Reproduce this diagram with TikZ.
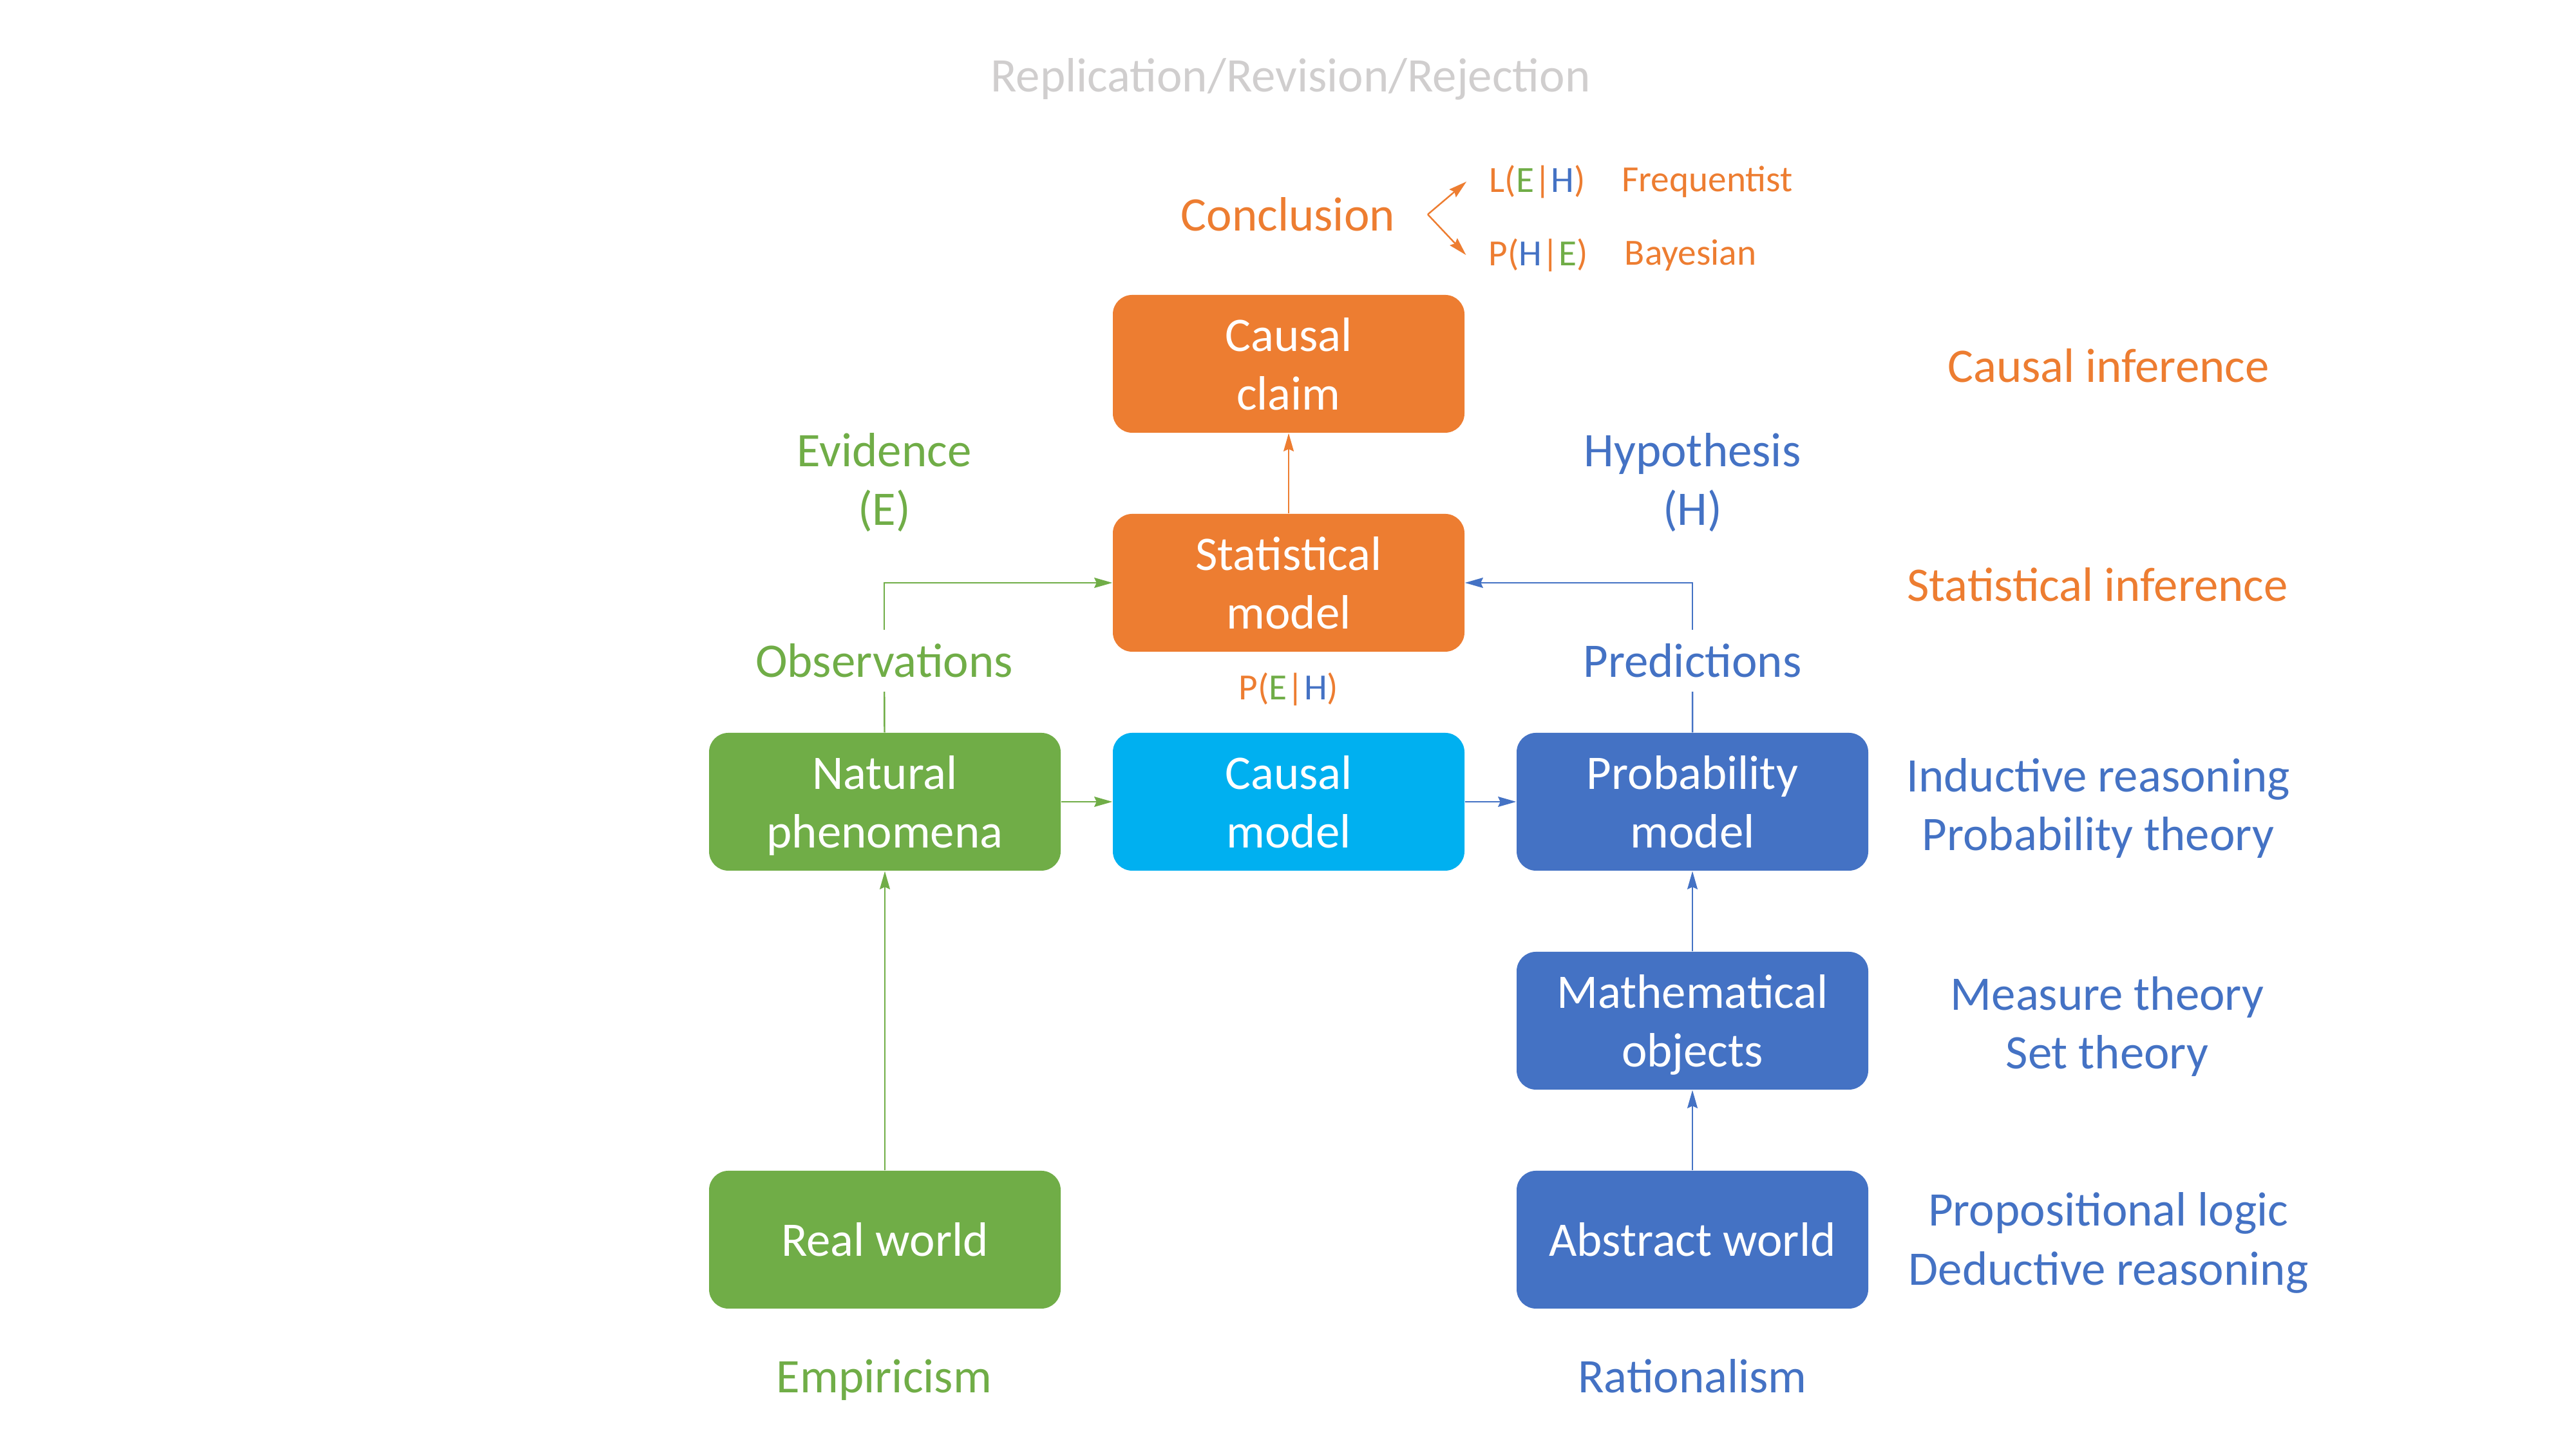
\documentclass[tikz,border=0pt]{standalone}
\usepackage{fontspec}
\setmainfont{Carlito}
\usepackage{tikz}
\usetikzlibrary{arrows.meta, positioning}
\definecolor{porange}{HTML}{ED7D31}
\definecolor{pgreen}{HTML}{70AD47}
\definecolor{pblue}{HTML}{4472C4}
\definecolor{pcyan}{HTML}{00B0F0}
\definecolor{pgray}{HTML}{D0CECE}
\newcommand{\bigfont}{\fontsize{21.3}{26}\selectfont}
\newcommand{\smallfont}{\fontsize{16.3}{20}\selectfont}
\tikzstyle{modelbox} = [rectangle, rounded corners=3mm, minimum width=5.46cm, minimum height=2.14cm, align=center, text depth=0pt, text=white, font=\bigfont]
\tikzstyle{label} = [align=center, font=\bigfont]
\tikzstyle{cond} = [font=\smallfont, text=porange]
\tikzstyle{arrow} = [line width=0.7pt, -{Stealth[length=8pt, width=4.5pt, inset=1pt]}]

\begin{document}
\begin{tikzpicture}[node distance=3.4cm]
\useasboundingbox (0,0) rectangle (40,22.5);
% boxes
\node (claim) [modelbox, fill=porange] at (20.01,16.85) {Causal\\claim};
\node (stat) [modelbox, fill=porange, below of=claim] {Statistical\\model};
\node (causal) [modelbox, fill=pcyan, below of=stat] {Causal\\model};
\node (natural) [modelbox, fill=pgreen, node distance=6.27cm, left of=causal] {Natural\\phenomena};
\node (prob) [modelbox, fill=pblue, node distance=6.27cm, right of=causal] {Probability\\model};
\node (math) [modelbox, fill=pblue, below of=prob] {Mathematical\\objects};
\node (abstract) [modelbox, fill=pblue, below of=math] {Abstract world};
\node (real) [modelbox, fill=pgreen, node distance=6.8cm, below of=natural] {Real world};
% labels
\node (title) [label, text=pgray] at (20.04,21.27) {Replication/Revision/Rejection};
\node (concl) [label, text=porange] at (20.0,19.17) {Conclusion};
\coordinate (fork) at (22.17,19.17);
\node (leh) [cond] at (23.87,19.68) {L(\textcolor{pgreen}{E}|\textcolor{pblue}{H})};
\node (freq) [cond] at (26.51,19.68) {Frequentist};
\node (phe) [cond] at (23.89,18.54) {P(\textcolor{pblue}{H}|\textcolor{pgreen}{E})};
\node (bayes) [cond] at (26.25,18.54) {Bayesian};
\node (evid) [label, text=pgreen] at (13.73,15.01) {Evidence\\(E)};
\node (hyp) [label, text=pblue] at (26.28,15.01) {Hypothesis\\(H)};
\node (obs) [label, text=pgreen, inner sep=6pt] at (13.73,12.24) {Observations};
\node (pred) [label, text=pblue, inner sep=6pt] at (26.28,12.24) {Predictions};
\node (peh) [cond] at (20.01,11.80) {P(\textcolor{pgreen}{E}|\textcolor{pblue}{H})};
\node (empi) [label, text=pgreen, anchor=base] at (13.73,0.87) {Empiricism};
\node (rati) [label, text=pblue, anchor=base] at (26.28,0.87) {Rationalism};
\node (cinf) [label, text=porange] at (32.74,16.82) {Causal inference};
\node (sinf) [label, text=porange] at (32.57,13.42) {Statistical inference};
\node (induc) [label, text=pblue] at (32.58,9.95) {Inductive reasoning\\Probability theory};
\node (meas) [label, text=pblue] at (32.72,6.56) {Measure theory\\Set theory};
\node (logic) [label, text=pblue] at (32.74,3.20) {Propositional logic\\Deductive reasoning};
% connectors
\draw [arrow, porange] (fork) -- ([xshift=-2.3mm]leh.west);
\draw [arrow, porange] (fork) -- ([xshift=-2.3mm]phe.west);
\draw [arrow, porange] (stat) -- (claim);
\draw [line width=0.7pt, pgreen] (natural) -- (obs);
\draw [arrow, pgreen] (obs) |- (stat);
\draw [line width=0.7pt, pblue] (prob) -- (pred);
\draw [arrow, pblue] (pred) |- (stat);
\draw [arrow, pgreen] (natural) -- (causal);
\draw [arrow, pblue] (causal) -- (prob);
\draw [arrow, pgreen] (real) -- (natural);
\draw [arrow, pblue] (abstract) -- (math);
\draw [arrow, pblue] (math) -- (prob);
\end{tikzpicture}
\end{document}
